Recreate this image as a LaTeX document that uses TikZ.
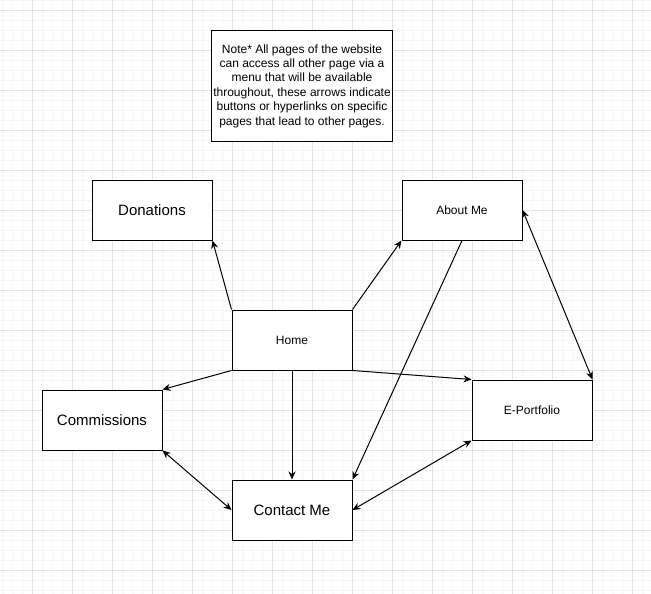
\documentclass[tikz,border=0pt]{standalone}
\usepackage{fontspec}
\setmainfont{Liberation Sans}
\usetikzlibrary{arrows.meta,positioning}
\definecolor{gridmajor}{RGB}{227,227,227}
\definecolor{gridminor}{RGB}{246,246,246}

\begin{document}
\begin{tikzpicture}[x=1pt,y=-1pt,
  page/.style={rectangle,draw,line width=1pt,fill=white,minimum width=120pt,minimum height=60pt,inner sep=2pt},
  bigtext/.style={font=\fontsize{15pt}{18pt}\selectfont},
  smalltext/.style={font=\fontsize{12pt}{14.4pt}\selectfont},
  link/.style={line width=1pt,-{Stealth[length=8pt,width=7pt]}},
  twoway/.style={line width=1pt,{Stealth[length=8pt,width=7pt]}-{Stealth[length=8pt,width=7pt]}}]

  \useasboundingbox (0,0) rectangle (651,594);
  \fill[white] (0,0) rectangle (651,594);

  % Grid
  \foreach \x in {2,12,...,651} {
    \draw[gridminor,line width=0.8pt] (\x,0) -- (\x,594);
  }
  \foreach \y in {0,10,...,594} {
    \draw[gridminor,line width=0.8pt] (0,\y) -- (651,\y);
  }
  \foreach \x in {32,72,...,651} {
    \draw[gridmajor,line width=0.8pt] (\x,0) -- (\x,594);
  }
  \foreach \y in {10,50,...,594} {
    \draw[gridmajor,line width=0.8pt] (0,\y) -- (651,\y);
  }

  % Note
  \node[page,minimum width=180pt,minimum height=110pt,smalltext,align=center] (note) at (302,86)
    {Note* All pages of the website\\can access all other page via a\\menu that will be available\\throughout, these arrows indicate\\buttons or hyperlinks on specific\\pages that lead to other pages.};

  % Pages
  \node[page,bigtext] (donations) at (152,210) {Donations};
  \node[page,smalltext] (aboutme) at (462,210) {About Me};
  \node[page,smalltext] (home) at (292,340) {Home};
  \node[page,bigtext] (commissions) at (102,420) {Commissions};
  \node[page,smalltext] (eportfolio) at (532,410) {E-Portfolio};
  \node[page,bigtext] (contactme) at (292,510) {Contact Me};

  % Links from home
  \draw[link] (home.north west) -- (donations.south east);
  \draw[link] (home.north east) -- (aboutme.south west);
  \draw[link] (home.south west) -- (commissions.north east);
  \draw[link] (home.south) -- (contactme.north);
  \draw[link] (home.south east) -- (eportfolio.north west);

  % Other links
  \draw[link] (aboutme.south) -- (contactme.north east);
  \draw[twoway] (aboutme.east) -- (eportfolio.north east);
  \draw[twoway] (commissions.south east) -- (contactme.west);
  \draw[twoway] (contactme.east) -- (eportfolio.south west);
\end{tikzpicture}
\end{document}
